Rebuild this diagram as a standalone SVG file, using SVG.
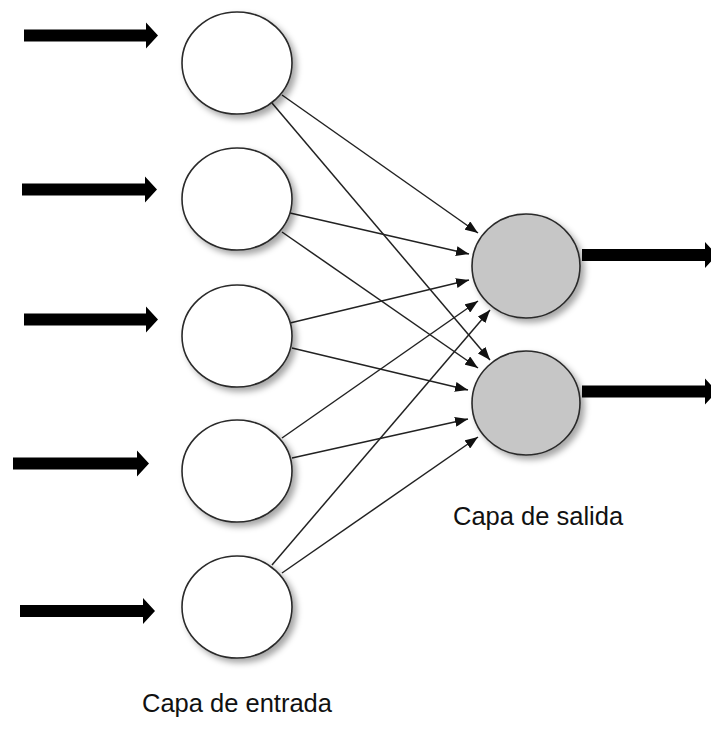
<svg xmlns="http://www.w3.org/2000/svg" width="711" height="731" viewBox="0 0 711 731">
<defs>
<style>
.in{fill:#ffffff;stroke:#2a2a2a;stroke-width:1.6;filter:url(#sh)}
.out{fill:#c6c6c6;stroke:#2a2a2a;stroke-width:1.6;filter:url(#sh)}
.conn{stroke:#222222;stroke-width:1.5;fill:none;marker-end:url(#ah)}
.big{fill:#000000}
.lbl{font-family:"Liberation Sans",Arial,sans-serif;font-size:25.5px;fill:#111111}
</style>
<filter id="sh" x="-20%" y="-20%" width="150%" height="150%">
<feDropShadow dx="4" dy="4" stdDeviation="3" flood-color="#000" flood-opacity="0.35"/>
</filter>
<marker id="ah" viewBox="0 0 13 10" refX="13" refY="5" markerWidth="13" markerHeight="10" markerUnits="userSpaceOnUse" orient="auto">
<path d="M0,0 L13,5 L0,10 Z" fill="#111"/>
</marker>
</defs>

<g id="input-arrows">
<path class="big" d="M24,29.5 H146 V22.5 L158,35.5 L146,48.5 V41.5 H24 Z"/>
<path class="big" d="M22,183.5 H145 V176.5 L157,189.5 L145,202.5 V195.5 H22 Z"/>
<path class="big" d="M24,313.5 H146 V306.5 L158,319.5 L146,332.5 V325.5 H24 Z"/>
<path class="big" d="M13,457.5 H137 V450.5 L149,463.5 L137,476.5 V469.5 H13 Z"/>
<path class="big" d="M20,605 H143 V598 L155,611 L143,624 V617 H20 Z"/>
</g>

<g id="connectors">
<line class="conn" x1="282" y1="95" x2="478" y2="233"/>
<line class="conn" x1="272" y1="103" x2="490" y2="360"/>
<line class="conn" x1="290" y1="213" x2="469" y2="254"/>
<line class="conn" x1="282" y1="232" x2="478" y2="368"/>
<line class="conn" x1="290" y1="323" x2="469" y2="280"/>
<line class="conn" x1="292" y1="348" x2="468" y2="390"/>
<line class="conn" x1="282" y1="438" x2="478" y2="301"/>
<line class="conn" x1="292" y1="458" x2="468" y2="419"/>
<line class="conn" x1="272" y1="565" x2="490" y2="310"/>
<line class="conn" x1="282" y1="573" x2="478" y2="437"/>
</g>

<g id="in1"><ellipse class="in" cx="237" cy="63" rx="55" ry="51"/></g>
<g id="in2"><ellipse class="in" cx="237" cy="199" rx="55" ry="51"/></g>
<g id="in3"><ellipse class="in" cx="237" cy="336" rx="55" ry="51"/></g>
<g id="in4"><ellipse class="in" cx="237" cy="471" rx="55" ry="51"/></g>
<g id="in5"><ellipse class="in" cx="237" cy="607" rx="55" ry="51"/></g>

<g id="out1"><ellipse class="out" cx="526" cy="266" rx="54" ry="52"/></g>
<g id="out2"><ellipse class="out" cx="526" cy="403" rx="54" ry="52"/></g>

<g id="output-arrows">
<path class="big" d="M582,249 H705 V242 L717,255 L705,268 V261 H582 Z"/>
<path class="big" d="M582,385.5 H705 V378.5 L717,391.5 L705,404.5 V397.5 H582 Z"/>
</g>

<g id="labels">
<text class="lbl" x="453" y="525">Capa de salida</text>
<text class="lbl" x="142" y="712">Capa de entrada</text>
</g>
</svg>
